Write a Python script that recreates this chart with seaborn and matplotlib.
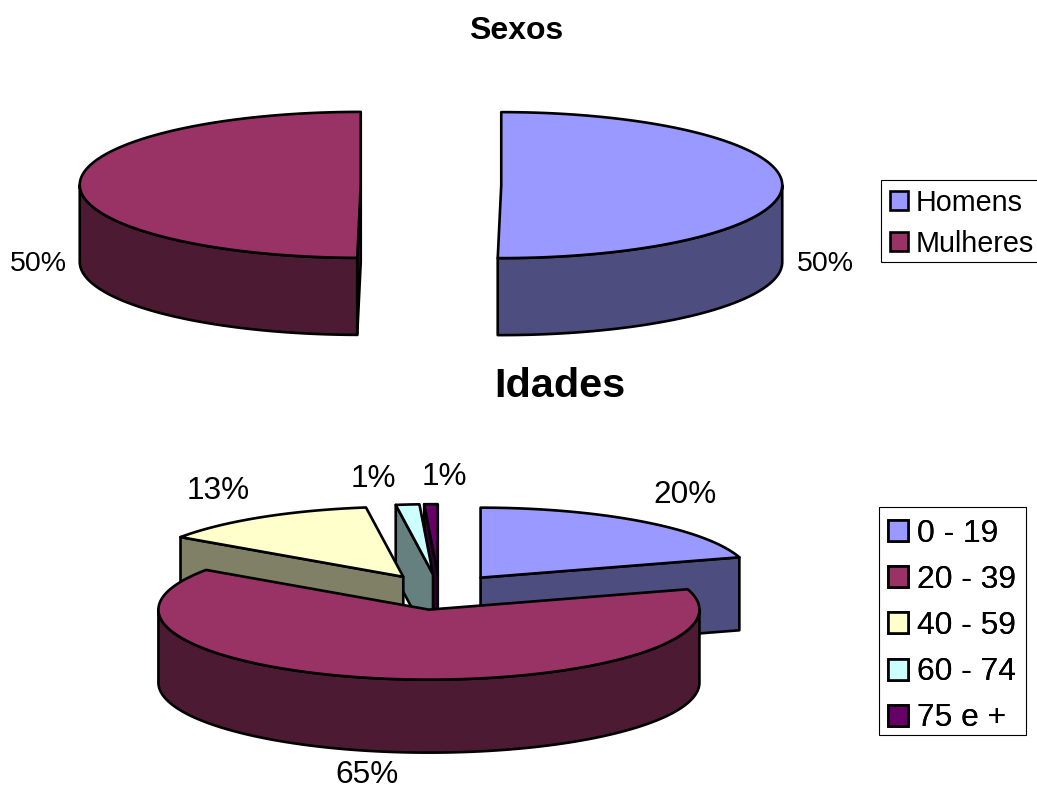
import numpy as np
import matplotlib
matplotlib.use("Agg")
import matplotlib.pyplot as plt
from matplotlib.patches import Patch, Polygon, Rectangle
import seaborn as sns

# data
sexos_labels = ["Homens", "Mulheres"]
sexos_values = [50.2, 49.8]
sexos_text = ["50%", "50%"]

idades_labels = ["0 - 19", "20 - 39", "40 - 59", "60 - 74", "75 e +"]
idades_values = [20.3, 64.3, 13.2, 1.4, 0.8]
idades_text = ["20%", "65%", "13%", "1%", "1%"]

colors = ["#9999FF", "#993366", "#FFFFCC", "#CCFFFF", "#660066"]

sns.set_theme(style="white")
plt.rcParams["font.family"] = ["Liberation Sans", "DejaVu Sans"]

LINE = 1.9


def rim(theta, ax_x, ax_y, rx, ry):
    """Point on the ellipse, theta in degrees clockwise from the top."""
    t = np.radians(theta)
    return ax_x + rx * np.sin(t), ax_y - ry * np.cos(t)


def draw_pie(ax, values, palette, cx, cy, rx, ry, depth, explode):
    """Fake 3D exploded pie, like the old Excel ones."""
    edges = np.concatenate([[0], np.cumsum(values)]) / np.sum(values) * 360
    slices = []
    for i in range(len(values)):
        mid = (edges[i] + edges[i + 1]) / 2
        ox, oy = rim(mid, cx, cy, rx * explode, ry * explode)
        slices.append((oy, i, ox))

    # back slices first, so the front ones paint over them
    for oy, i, ox in sorted(slices):
        start, end = edges[i], edges[i + 1]
        top = palette[i]
        side = tuple(c * 0.5 for c in top)
        style = dict(edgecolor="black", linewidth=LINE, joinstyle="round")

        # cut faces, only the ones turned to the viewer
        for theta, seen in ((start, np.sin(np.radians(start)) < -1e-6),
                            (end, np.sin(np.radians(end)) > 1e-6)):
            if seen:
                x, y = rim(theta, ox, oy, rx, ry)
                ax.add_patch(Polygon([(ox, oy), (x, y), (x, y + depth), (ox, oy + depth)],
                                     facecolor=side, **style))

        # outer wall, front half of the ellipse only
        a, b = max(start, 90), min(end, 270)
        if b > a:
            th = np.linspace(a, b, 200)
            x, y = rim(th, ox, oy, rx, ry)
            wall = np.r_[np.c_[x, y], np.c_[x[::-1], y[::-1] + depth]]
            ax.add_patch(Polygon(wall, facecolor=side, **style))

        # top face
        th = np.linspace(start, end, 300)
        x, y = rim(th, ox, oy, rx, ry)
        face = np.r_[[(ox, oy)], np.c_[x, y]]
        ax.add_patch(Polygon(face, facecolor=top, **style))


def add_legend(ax, labels, palette, anchor, size, spacing, box):
    # frame drawn apart, the rows sit a bit high in a normal legend frame
    ax.add_patch(Rectangle(box[:2], box[2], box[3], facecolor="white",
                           edgecolor="black", linewidth=0.8))
    handles = [Patch(facecolor=c, edgecolor="black", linewidth=LINE, label=n)
               for n, c in zip(labels, palette)]
    leg = ax.legend(handles=handles, loc="upper left", bbox_to_anchor=anchor,
                    bbox_transform=ax.transData, fontsize=size, frameon=False,
                    borderaxespad=0, borderpad=0.3,
                    handlelength=0.64, handleheight=0.64, handletextpad=0.28,
                    labelspacing=spacing, labelcolor="black")
    ax.add_artist(leg)
    return leg


fig = plt.figure(figsize=(10.37, 7.92), dpi=100)
ax = fig.add_axes([0, 0, 1, 1])
ax.set_xlim(0, 1037)
ax.set_ylim(792, 0)
ax.axis("off")

pal = sns.color_palette(colors)

draw_pie(ax, sexos_values, pal[:2], 431, 185, 281, 73, 77, 0.25)
draw_pie(ax, idades_values, pal, 439.5, 592, 270.5, 70, 73, 0.255)

ax.text(516.5, 31, "Sexos", fontsize=23, fontweight="bold", ha="center", va="center", color="black")
ax.text(559.5, 386, "Idades", fontsize=29.8, fontweight="bold", ha="center", va="center", color="black")

# percent labels
for txt, x, y in zip(sexos_text, [825.5, 38], [264, 264]):
    ax.text(x, y, txt, fontsize=20.5, ha="center", va="center", color="black")
for txt, x, y in zip(idades_text, [685, 367, 218, 373, 444], [495, 775, 491, 479, 477]):
    ax.text(x, y, txt, fontsize=22.7, ha="center", va="center", color="black")

add_legend(ax, sexos_labels, pal[:2], (881, 180), 20.7, 0.45, (881, 180, 160, 82))
add_legend(ax, idades_labels, pal, (878, 509), 22.9, 0.51, (879, 507, 147, 228))

fig.savefig("out.png", dpi=100)
